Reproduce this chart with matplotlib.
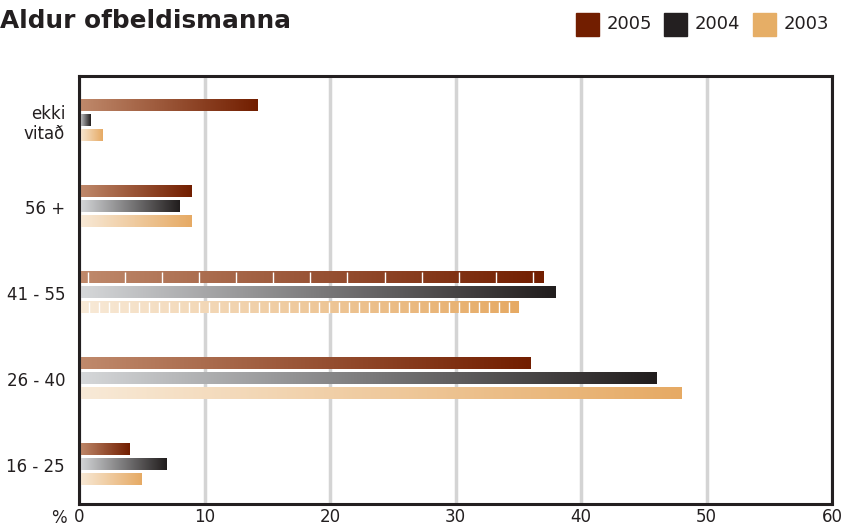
import numpy as np
import matplotlib.pyplot as plt
from matplotlib.colors import LinearSegmentedColormap
from matplotlib.patches import Rectangle

# gögn
categories = ["16 - 25", "26 - 40", "41 - 55", "56 +", "ekki\nvitað"]
years = ["2005", "2004", "2003"]
v2005 = [4, 36, 37, 9, 14.2]
v2004 = [7, 46, 38, 8, 0.9]
v2003 = [5, 48, 35, 9, 1.9]
xticks = [0, 10, 20, 30, 40, 50, 60]

# litir: ljós -> dökkur
grads = {
    "2005": ("#c08a6c", "#721e00"),
    "2004": ("#d6d8da", "#211d1d"),
    "2003": ("#f8ead8", "#e6aa64"),
}
solid = {"2005": "#721e00", "2004": "#231f20", "2003": "#e6ae66"}
# hvítar rákir í 41 - 55 súlunum (eins og í frumriti)
stripe_step = {"2005": 2.955, "2004": None, "2003": 0.797}

W, H = 843, 526
fig = plt.figure(figsize=(W / 100, H / 100), dpi=100)
ax = fig.add_axes([79 / W, 1 - 504 / H, 753 / W, 428 / H])

offsets = [0.174, 0.0, -0.174]
h = 0.128
grad = np.linspace(0, 1, 256).reshape(1, -1)
for yr, off, vals in zip(years, offsets, [v2005, v2004, v2003]):
    cmap = LinearSegmentedColormap.from_list(yr, grads[yr])
    for i, v in enumerate(vals):
        y = i + off
        ax.imshow(grad, cmap=cmap, aspect="auto", interpolation="bilinear",
                  extent=[0, v, y - h / 2, y + h / 2], zorder=3)
        if categories[i] == "41 - 55" and stripe_step[yr]:
            xs = np.arange(stripe_step[yr] * 0.24 if yr == "2005" else stripe_step[yr],
                           v, stripe_step[yr])
            ax.vlines(xs, y - h / 2, y + h / 2, color="white", lw=1.0, zorder=4)

ax.set_xlim(0, 60)
ax.set_ylim(-0.455, 4.52)
ax.set_xticks(xticks)
ax.set_xticklabels([str(t) for t in xticks], fontsize=12, color="#231f20")
ax.set_yticks(range(len(categories)))
ax.set_yticklabels(categories, fontsize=12, color="#231f20", linespacing=1.15)
ax.tick_params(length=0, pad=10)
ax.tick_params(axis="x", pad=3)
ax.grid(axis="x", color="#d4d4d4", lw=2.5, zorder=0)
ax.set_axisbelow(True)
for s in ax.spines.values():
    s.set_linewidth(2.2)
    s.set_color("#231f20")
    s.set_zorder(6)

fig.text(51 / W, 1 - 518 / H, "%", fontsize=12, color="#231f20",
         va="center", ha="left")

fig.text(0.0, 1 - 21 / H, "Aldur ofbeldismanna", fontsize=17.8, fontweight="bold",
         color="#231f20", va="center", ha="left")

# legend
lx = [576, 664, 753]
for x0, yr in zip(lx, years):
    fig.patches.append(Rectangle((x0 / W, 1 - 36 / H), 23 / W, 23 / H,
                                 transform=fig.transFigure, color=solid[yr]))
    fig.text((x0 + 31) / W, 1 - 24 / H, yr, fontsize=13, color="#231f20",
             va="center", ha="left")

fig.savefig("out.png", dpi=100)
